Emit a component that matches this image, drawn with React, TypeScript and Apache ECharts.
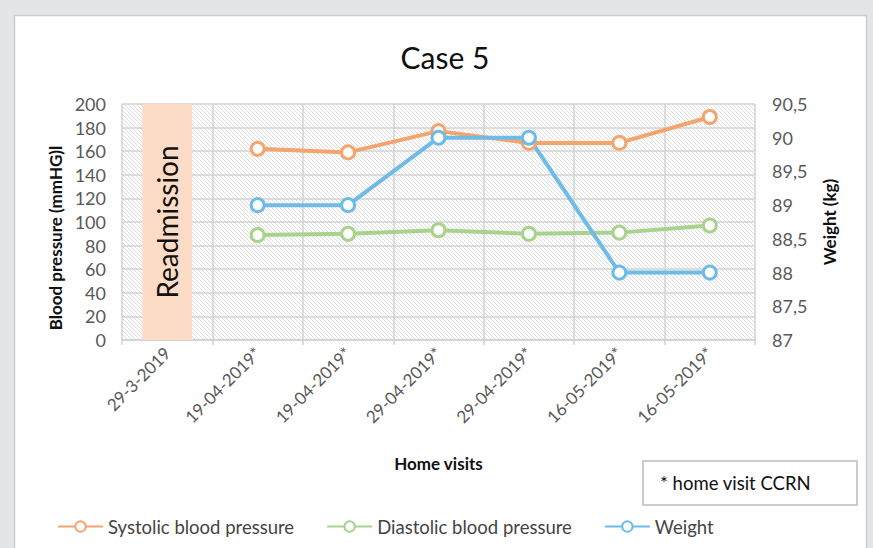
import React, { useEffect, useRef } from "react";
import * as echarts from "echarts";

const categories = [
  "29-3-2019",
  "19-04-2019*",
  "19-04-2019*",
  "29-04-2019*",
  "29-04-2019*",
  "16-05-2019*",
  "16-05-2019*",
];
const systolic = [null, 162, 159, 177, 167, 167, 189];
const diastolic = [null, 89, 90, 93, 90, 91, 97];
const weight = [null, 89, 89, 90, 90, 88, 88];
const readmission = [200, null, null, null, null, null, null];

const FONT = "Lato";

const hatchSvg =
  "data:image/svg+xml;utf8," +
  encodeURIComponent(
    '<svg xmlns="http://www.w3.org/2000/svg" width="4" height="4"><rect width="4" height="4" fill="#ffffff"/><path d="M-1,3 l2,2 M0,0 l4,4 M3,-1 l2,2" stroke="#d6d6d6" stroke-width="0.8"/></svg>'
  );

export default function App() {
  const ref = useRef<HTMLDivElement>(null);
  useEffect(() => {
    if (!ref.current) return;
    const chart = echarts.init(ref.current, undefined, { renderer: "svg" });
    const lineSeries = (name: string, data: (number | null)[], color: string, yAxisIndex: number) => ({
      name,
      type: "line",
      data,
      yAxisIndex,
      connectNulls: false,
      symbol: "circle",
      symbolSize: 13,
      itemStyle: { color: "#ffffff", borderColor: color, borderWidth: 3 },
      lineStyle: { color, width: 4 },
      z: 5,
    });
    chart.setOption({
      animation: false,
      backgroundColor: "#e4e5e6",
      title: {
        text: "Case 5",
        left: 440,
        textAlign: "center",
        top: 37,
        textStyle: { fontFamily: FONT, fontSize: 30, fontWeight: "normal", color: "#111111" },
      },
      graphic: [
        {
          type: "rect",
          shape: { x: 14.5, y: 15.5, width: 852, height: 540 },
          style: { fill: "#ffffff", stroke: "#cdcdcd", lineWidth: 1.5 },
          z: -10,
        },
        {
          type: "group",
          children: [
            {
              type: "rect",
              shape: { x: 643, y: 461, width: 214, height: 44 },
              style: { fill: "#ffffff", stroke: "#bcbcbc", lineWidth: 1.5 },
            },
            {
              type: "text",
              x: 660,
              y: 483,
              style: {
                text: "* home visit CCRN",
                fontFamily: FONT,
                fontSize: 18.5,
                fill: "#111111",
                verticalAlign: "middle",
              },
            },
          ],
        },
      ],
      legend: {
        data: ["Systolic blood pressure", "Diastolic blood pressure", "Weight"],
        left: 57,
        top: 517,
        padding: 0,
        itemWidth: 45,
        itemHeight: 13,
        itemGap: 32,
        textStyle: { fontFamily: FONT, fontSize: 18.5, color: "#444444" },
      },
      grid: {
        left: 122,
        right: 118,
        top: 104,
        bottom: 208,
        show: true,
        borderWidth: 0,
        backgroundColor: { image: hatchSvg, repeat: "repeat", imageWidth: 4, imageHeight: 4 },
      },
      xAxis: {
        type: "category",
        data: categories,
        boundaryGap: true,
        name: "Home visits",
        nameLocation: "middle",
        nameGap: 115,
        nameTextStyle: { fontFamily: FONT, fontSize: 17, fontWeight: "bold", color: "#111111" },
        axisLine: { lineStyle: { color: "#d0d0d0", width: 1.5 } },
        axisTick: { show: true, interval: 0, length: 5, lineStyle: { color: "#d0d0d0", width: 1.5 } },
        splitLine: { show: true, interval: 0, lineStyle: { color: "#d3d3d3", width: 1.5 } },
        axisLabel: {
          interval: 0,
          rotate: 45,
          margin: 10,
          fontFamily: FONT,
          fontSize: 17,
          color: "#595959",
        },
      },
      yAxis: [
        {
          type: "value",
          min: 0,
          max: 200,
          interval: 20,
          name: "Blood pressure (mmHG)l",
          nameLocation: "middle",
          nameGap: 58,
          nameRotate: 90,
          nameTextStyle: {
            fontFamily: FONT,
            fontSize: 17,
            fontWeight: "bold",
            color: "#111111",
            padding: [0, 32, 0, 0],
          },
          axisLine: { show: false },
          axisTick: { show: false },
          splitLine: { show: true, lineStyle: { color: "#d3d3d3", width: 1.5 } },
          axisLabel: { fontFamily: FONT, fontSize: 18, color: "#595959", margin: 16 },
        },
        {
          type: "value",
          min: 87,
          max: 90.5,
          interval: 0.5,
          position: "right",
          name: "Weight (kg)",
          nameLocation: "middle",
          nameGap: 66,
          nameRotate: 90,
          nameTextStyle: { fontFamily: FONT, fontSize: 17, fontWeight: "bold", color: "#111111" },
          axisLine: { show: false },
          axisTick: { show: false },
          splitLine: { show: false },
          axisLabel: {
            fontFamily: FONT,
            fontSize: 18,
            color: "#595959",
            margin: 17,
            formatter: (v: number) => String(v).replace(".", ","),
          },
        },
      ],
      series: [
        {
          name: "Readmission",
          type: "bar",
          data: readmission,
          yAxisIndex: 0,
          barWidth: 50,
          itemStyle: { color: "#fcdcc6" },
          label: {
            show: true,
            position: "inside",
            rotate: 90,
            formatter: "Readmission",
            fontFamily: FONT,
            fontSize: 28,
            color: "#111111",
          },
          z: 3,
        },
        lineSeries("Systolic blood pressure", systolic, "#f4a56f", 0),
        lineSeries("Diastolic blood pressure", diastolic, "#a9d38c", 0),
        lineSeries("Weight", weight, "#6fbbe8", 1),
      ],
    });
    return () => chart.dispose();
  }, []);
  return (
    <div
      ref={ref}
      style={{ position: "fixed", left: 0, top: 0, width: 873, height: 548 }}
    />
  );
}
